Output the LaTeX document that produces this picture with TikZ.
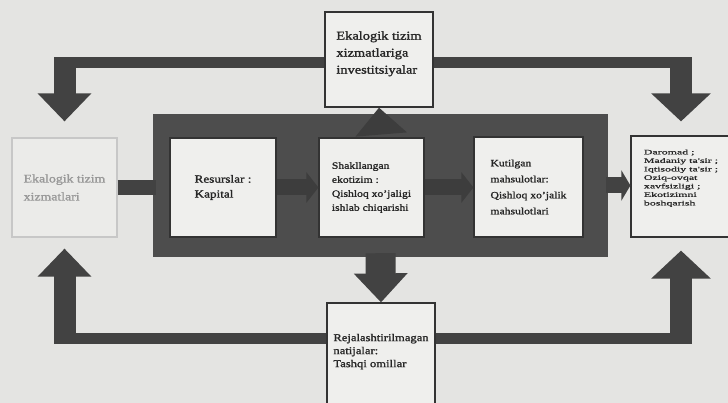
\documentclass[tikz,border=0pt]{standalone}
\usepackage{fontspec}
\setmainfont{Liberation Serif}[FakeStretch=1.2,FakeBold=1.5]
\newfontfamily\narrowfont{Liberation Serif}[FakeStretch=1.7,FakeBold=1]
\usetikzlibrary{arrows.meta}
\definecolor{paper}{HTML}{E4E4E2}
\definecolor{boxfill}{HTML}{EFEFED}
\definecolor{coregray}{HTML}{4D4D4D}
\definecolor{arrowgray}{HTML}{424242}
\definecolor{innergray}{HTML}{3D3D3D}
\tikzset{>=latex}
\tikzset{
  box/.style={draw=black!80, line width=1.2pt, fill=boxfill, align=left, text=black!85, inner sep=0pt},
  hbar/.style={draw=arrowgray, line width=11pt},
  vbar/.style={draw=arrowgray, line width=22pt, -{Triangle[width=52pt,length=28pt]}},
  flowbar/.style={draw=innergray, line width=16pt, -{Triangle[width=30pt,length=12pt]}},
}

\begin{document}
\begin{tikzpicture}[x=1pt,y=-1pt]
\useasboundingbox (0,0) rectangle (728,403);
\clip (0,0) rectangle (728,403);
\fill[paper] (0,0) rectangle (728,403);

% the grey frame
\node[fill=coregray, minimum width=455pt, minimum height=143pt, inner sep=0pt] (core) at (380.5,185.5) {};

\node[box, minimum width=108pt, minimum height=95pt, text depth=14pt, font=\fontsize{12}{17}\selectfont] (top) at (379,59.5)
  {Ekalogik tizim\\xizmatlariga\\investitsiyalar};
\node[box, draw=black!22, fill=boxfill!60!paper, text=black!40, minimum width=105pt, minimum height=99pt, font=\fontsize{11.5}{18}\selectfont] (left) at (64.5,187.5)
  {Ekalogik tizim\\xizmatlari};
\node[box, minimum width=106pt, minimum height=99pt, font=\fontsize{11}{15}\selectfont] (res) at (223,187.5)
  {Resurslar :\\Kapital};
\node[box, minimum width=105pt, minimum height=99pt, font=\fontsize{9.7}{14}\selectfont] (eco) at (371.5,187.5)
  {Shakllangan\\ekotizim :\\Qishloq xo'jaligi\\ishlab chiqarishi};
\node[box, minimum width=109pt, minimum height=100pt, font=\fontsize{9.7}{16}\selectfont] (prod) at (528.5,187)
  {Kutilgan\\mahsulotlar:\\Qishloq xo'jalik\\mahsulotlari};
\node[box, minimum width=100pt, minimum height=101pt, text depth=18pt, font=\narrowfont\fontsize{7}{8.5}\selectfont] (out) at (681,186.5)
  {Daromad ;\\Madaniy ta'sir ;\\Iqtisodiy ta'sir ;\\Oziq-ovqat\\xavfsizligi ;\\Ekotizimni\\boshqarish};
\node[box, minimum width=108pt, minimum height=110pt, text depth=15pt, font=\fontsize{10.5}{13}\selectfont] (bottom) at (381,358)
  {Rejalashtirilmagan\\natijalar:\\Tashqi omillar};

% corners of the big arrows
\coordinate (tl) at (64.5,63);
\coordinate (tr) at (681,63);
\coordinate (bl) at (64.5,338);
\coordinate (br) at (681,338);

\draw[hbar] (top.west |- tl) -- ([xshift=-11pt]tl);
\draw[vbar, shorten >=16pt] ([yshift=5.5pt]tl) -- (left.north);
\draw[hbar] (top.east |- tr) -- ([xshift=11pt]tr);
\draw[vbar, shorten >=14pt, -{Triangle[width=58pt,length=28pt]}] ([yshift=5.5pt]tr) -- (out.north);
\draw[hbar] (bottom.west |- bl) -- ([xshift=-11pt]bl);
\draw[vbar, shorten >=11pt] ([yshift=-5.5pt]bl) -- (left.south);
\draw[hbar] (bottom.east |- br) -- ([xshift=11pt]br);
\draw[vbar, shorten >=13pt, -{Triangle[width=58pt,length=28pt]}] ([yshift=-5.5pt]br) -- (out.south);

% in and out of the frame
\draw[draw=arrowgray, line width=15pt] (left.east) -- ([xshift=3pt]core.west |- left.east);
\draw[draw=arrowgray, line width=16pt, -{Triangle[width=30pt,length=9pt]}] ([xshift=-2pt]core.east) -- (core.east -| out.west);
\draw[draw=arrowgray, line width=30pt, -{Triangle[width=52pt,length=29pt]}] ([yshift=4pt]core.south) -- (bottom.north);
\draw[draw=innergray, line width=22pt, -{Triangle[width=50pt,length=27pt]}] ([yshift=-12pt]core.north) -- (top.south);
\draw[flowbar] (res.east) -- (eco.west);
\draw[flowbar] (eco.east) -- (eco.east -| prod.west);
\end{tikzpicture}
\end{document}
